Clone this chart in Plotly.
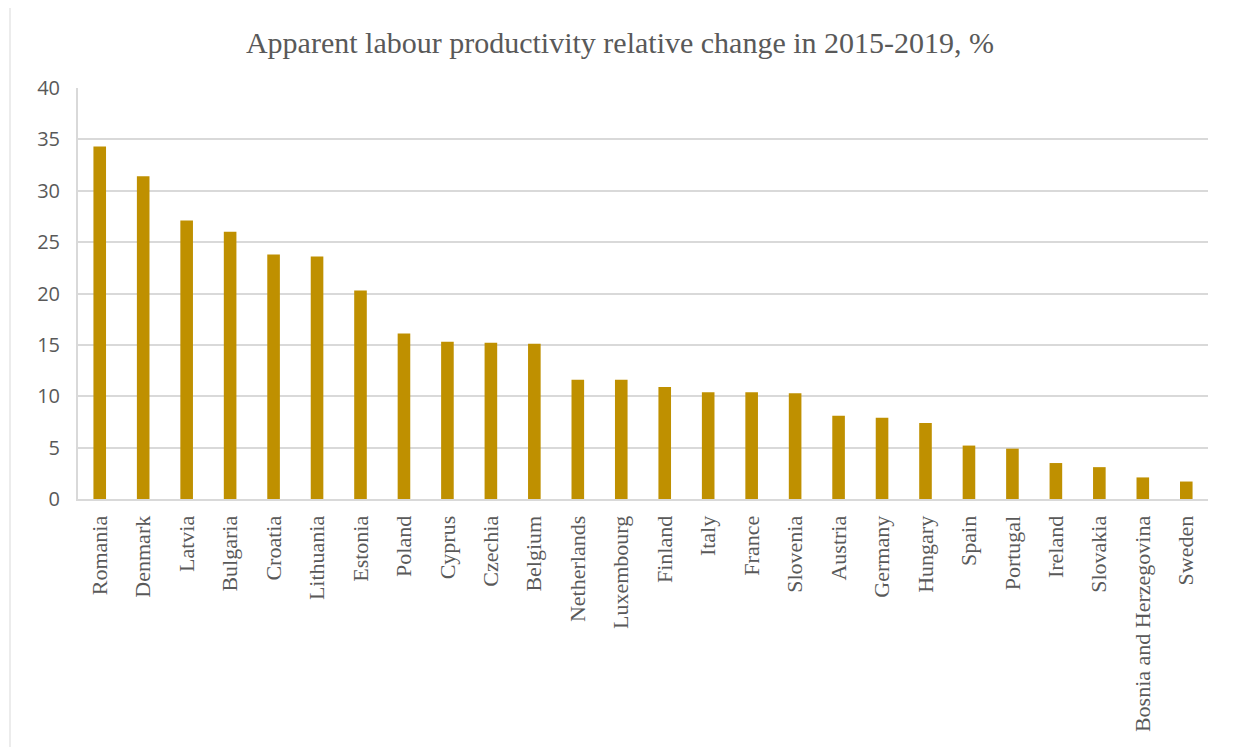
import plotly.graph_objects as go

countries = ["Romania", "Denmark", "Latvia", "Bulgaria", "Croatia", "Lithuania", "Estonia",
             "Poland", "Cyprus", "Czechia", "Belgium", "Netherlands", "Luxembourg", "Finland",
             "Italy", "France", "Slovenia", "Austria", "Germany", "Hungary", "Spain", "Portugal",
             "Ireland", "Slovakia", "Bosnia and Herzegovina", "Sweden"]
values = [34.3, 31.4, 27.1, 26.0, 23.8, 23.6, 20.3, 16.1, 15.3, 15.2, 15.1, 11.6, 11.6, 10.9,
          10.4, 10.4, 10.3, 8.1, 7.9, 7.4, 5.2, 4.9, 3.5, 3.1, 2.1, 1.7]
y_ticks = [0, 5, 10, 15, 20, 25, 30, 35, 40]
title_text = "Apparent labour productivity relative change in 2015-2019, %"

fig = go.Figure(go.Bar(x=countries, y=values, marker=dict(color="#BF9000", line=dict(width=0))))

OFF = 8  # page body margin
W, H = 1240 - OFF, 747 - OFF
L, R, T, B = 78 - OFF, 32, 88 - OFF, 248
pw = W - L - R
ph = H - T - B

fig.update_layout(
    width=W, height=H,
    margin=dict(l=L, r=R, t=T, b=B, autoexpand=False),
    paper_bgcolor="white", plot_bgcolor="white",
    bargap=0.71,
    showlegend=False,
    title=dict(text=title_text, x=(620 - OFF) / W, xref="container", xanchor="center",
               y=1 - (42 - OFF) / H, yref="container", yanchor="middle",
               font=dict(family="Liberation Serif", size=30, color="#595959")),
    xaxis=dict(tickangle=-90, tickfont=dict(family="Liberation Serif", size=22, color="#595959"),
               showline=True, linecolor="#d9d9d9", linewidth=2,
               ticks="outside", ticklen=6, tickcolor="rgba(0,0,0,0)",
               showgrid=False),
    yaxis=dict(range=[0, 40], tickvals=y_ticks, ticktext=[str(v) for v in y_ticks],
               tickfont=dict(family="Open Sans", size=20, color="#595959"),
               showgrid=True, gridcolor="#d9d9d9", gridwidth=2,
               showline=True, linecolor="#d9d9d9", linewidth=2,
               ticks="outside", ticklen=12, tickcolor="rgba(0,0,0,0)",
               zeroline=False),
)

# outer chart border (left and right edges visible)
for px in (10, 1238):
    xp = (px - OFF - L) / pw
    fig.add_shape(type="line", xref="paper", yref="paper",
                  x0=xp, x1=xp, y0=-(B + 10) / ph, y1=(T + 10) / ph + 1,
                  line=dict(color="#d9d9d9", width=1))

fig.write_html("out.html")
